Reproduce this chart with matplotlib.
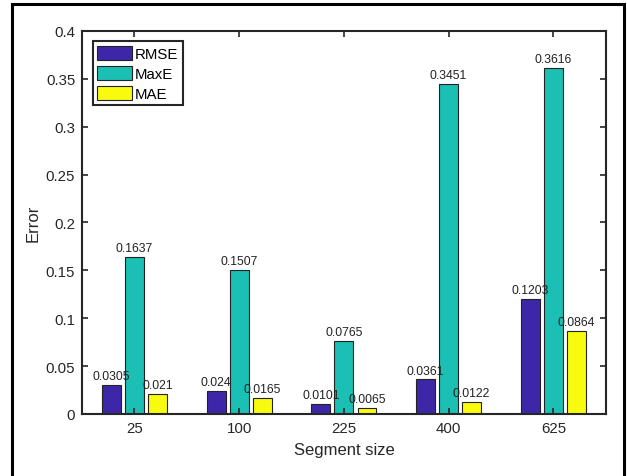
import numpy as np
import matplotlib
matplotlib.use("Agg")
import matplotlib.pyplot as plt
from matplotlib.patches import Rectangle

plt.rcParams['font.family'] = ['Liberation Sans', 'DejaVu Sans']

# Datos
tamanos = ["25", "100", "225", "400", "625"]
rmse = [0.0305, 0.024, 0.0101, 0.0361, 0.1203]
maxe = [0.1637, 0.1507, 0.0765, 0.3451, 0.3616]
mae = [0.021, 0.0165, 0.0065, 0.0122, 0.0864]
etiquetas_y = ["0", "0.05", "0.1", "0.15", "0.2", "0.25", "0.3", "0.35", "0.4"]

series = [("RMSE", rmse, "#3E26A8"), ("MaxE", maxe, "#1BBFB3"), ("MAE", mae, "#F9FB0E")]

fig = plt.figure(figsize=(6.27, 4.77), dpi=100)
ax = fig.add_axes([0.131, 0.130, 0.835, 0.803])

x = np.arange(len(tamanos))
ancho = 0.18
desp = 0.22
color_eje = "#262626"

for i, (nombre, valores, color) in enumerate(series):
    pos = x + (i - 1) * desp
    ax.bar(pos, valores, width=ancho, color=color, edgecolor="#222222", linewidth=0.8, label=nombre)
    for px, v in zip(pos, valores):
        ax.text(px, v + 0.003, f"{v:g}", ha="center", va="bottom", fontsize=8.8, color="#222222")

ax.set_xlim(-0.5, 4.5)
ax.set_ylim(0, 0.4)
ax.set_xticks(x)
ax.set_xticklabels(tamanos)
ax.set_yticks(np.arange(0, 0.401, 0.05))
ax.set_yticklabels(etiquetas_y)
ax.tick_params(direction="in", top=True, right=True, length=4, width=1.2, labelsize=10.8,
               colors=color_eje, pad=5)
for s in ax.spines.values():
    s.set_linewidth(1.5)
    s.set_color(color_eje)

ax.set_xlabel("Segment size", fontsize=12, color=color_eje, labelpad=5)
ax.set_ylabel("Error", fontsize=12, color=color_eje, labelpad=4)

leg = ax.legend(loc="upper left", fontsize=10.8, fancybox=False, framealpha=1,
                edgecolor=color_eje, handlelength=2.3, handleheight=1.1,
                handletextpad=0.2, borderpad=0.3, labelspacing=0.3,
                borderaxespad=0.7)
leg.get_frame().set_linewidth(1.5)

# marco exterior negro
fig.patches.append(Rectangle((12 / 627, -0.05), 612 / 627, 1 - 5 / 477 + 0.05,
                             transform=fig.transFigure, fill=False,
                             edgecolor="black", linewidth=2.2))

fig.savefig("out.png", dpi=100)
